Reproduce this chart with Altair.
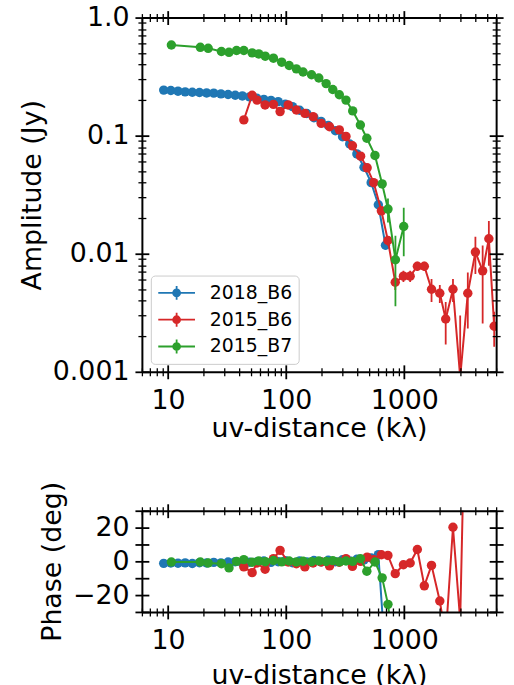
import altair as alt
import pandas as pd

FONT = "DejaVu Sans"
FS = 27
SERIES = ["2018_B6", "2015_B6", "2015_B7"]
COLORS = ["#1f77b4", "#d62728", "#2ca02c"]

# ---- 2018_B6 ----
uv_18b6 = [9.18, 10.55, 12.13, 13.95, 16.04, 18.44, 21.20, 24.37, 28.02, 32.22, 37.04,
           42.59, 48.96, 56.29, 64.72, 74.41, 85.55, 98.36, 113.1, 130.0, 149.5, 171.9,
           197.6, 227.2, 261.2, 300.3, 345.3, 397.0, 456.4, 524.7, 603.3, 693.6]
amp_18b6 = [0.243, 0.241, 0.238, 0.235, 0.233, 0.232, 0.230, 0.229, 0.226, 0.223, 0.220,
            0.217, 0.213, 0.208, 0.203, 0.199, 0.194, 0.185, 0.176, 0.164, 0.154, 0.142,
            0.132, 0.122, 0.110, 0.098, 0.085, 0.070, 0.054, 0.040, 0.026, 0.0118]
err_18b6 = [0.002] * 26 + [0.0015, 0.0015, 0.0012, 0.0012, 0.001, 0.001]
pha_18b6 = [-1.2, -1.0, -1.1, -0.9, -1.3, -0.8, -1.0, -0.6, -0.9, -0.4, -0.2, -1.1, -0.5,
            -0.3, 0.2, -0.6, -0.2, 0.4, -0.8, 0.3, -0.4, 0.5, -0.3, 0.6, -0.2, 0.9, 0.3,
            1.2, 0.8, 2.0, 4.0, -58.0]

# ---- 2015_B6 ----
uv_15b6 = [43.8, 51.5, 56.6, 66.3, 78.0, 88.8, 104, 122, 144, 169, 198, 233, 282, 321,
           364, 427, 485, 551, 640, 727, 839, 984, 1122, 1291, 1479, 1702, 2000, 2244,
           2586, 2976, 3453, 4005, 4613, 5206, 5775]
amp_15b6 = [0.136, 0.220, 0.200, 0.182, 0.184, 0.160, 0.182, 0.165, 0.1545, 0.145, 0.127,
            0.119, 0.112, 0.0985, 0.082, 0.067, 0.0534, 0.040, 0.0231, 0.01295, 0.00573,
            0.00646, 0.00646, 0.00784, 0.00784, 0.0050, 0.00463, 0.0028, 0.0050, 0.0009,
            0.00463, 0.01033, 0.00716, 0.0134, 0.00243]
err_15b6 = [0.004, 0.004, 0.004, 0.004, 0.004, 0.004, 0.004, 0.004, 0.003, 0.003, 0.003,
            0.003, 0.003, 0.003, 0.002, 0.002, 0.002, 0.002, 0.0015, 0.0012, 0.0008,
            0.0007, 0.0007, 0.0007, 0.0007, 0.0011, 0.0008, 0.0011, 0.0011, 0.0021,
            0.0023, 0.0036, 0.0046, 0.0055, 0.0008]
pha_15b6 = [-3.3, -6.7, -1.0, -4.7, 1.6, 6.5, -0.4, -1.4, -3.3, -1.0, -0.4, -2.7, -0.5,
            1.6, -3.0, 0.0, 2.5, 1.0, 3.9, 3.5, -7.3, -2.0, -1.0, 7.0, -14.5, -2.4, -23.5,
            -45.0, 20.2, -35.0, 170.0, 160.0, 175.0, 150.0, 165.0]

# ---- 2015_B7 ----
uv_15b7 = [10.66, 18.75, 21.86, 28.3, 32.8, 38.0, 43.8, 51.5, 58.6, 66.5, 78.0, 91.6,
           106, 122, 139, 164, 189, 218, 248, 282, 321, 366, 425, 482, 565, 650, 728,
           842, 990]
amp_15b7 = [0.586, 0.560, 0.549, 0.516, 0.508, 0.526, 0.526, 0.502, 0.492, 0.471, 0.453,
            0.419, 0.393, 0.368, 0.346, 0.328, 0.308, 0.276, 0.246, 0.222, 0.200, 0.162,
            0.123, 0.095, 0.068, 0.039, 0.0239, 0.0089, 0.0170]
err_15b7 = [0.006] * 22 + [0.004, 0.004, 0.003, 0.003, 0.0055, 0.0053, 0.0075]
pha_15b7 = [-0.4, -0.4, -1.0, -1.4, -3.9, 0.0, 1.0, -0.5, 0.3, -0.2, 0.5, -0.3, 0.2,
            -0.4, 0.1, -0.2, 0.3, -0.1, 0.4, -0.3, 0.2, 0.0, 1.6, -5.9, -0.4, -9.8,
            -25.5, -60.0, -45.0]

# ---- axis ticks ----
X_MAJOR = [10, 100, 1000]
X_MINOR = [6, 7, 8, 9, 20, 30, 40, 50, 60, 70, 80, 90, 200, 300, 400, 500, 600, 700,
           800, 900, 2000, 3000, 4000, 5000, 6000]
AMP_MAJOR = [0.001, 0.01, 0.1, 1.0]
AMP_MINOR = [0.002, 0.003, 0.004, 0.005, 0.006, 0.007, 0.008, 0.009,
             0.02, 0.03, 0.04, 0.05, 0.06, 0.07, 0.08, 0.09,
             0.2, 0.3, 0.4, 0.5, 0.6, 0.7, 0.8, 0.9]
PHA_TICKS = [-30, -20, -10, 0, 10, 20, 30]


def frame(name, uv, amp, err, pha):
    d = pd.DataFrame({"uv": uv, "amp": amp, "err": err, "phase": pha})
    d["series"] = name
    d["lo"] = (d["amp"] - d["err"]).clip(lower=1e-6)
    d["hi"] = d["amp"] + d["err"]
    return d


df = pd.concat([
    frame(SERIES[0], uv_18b6, amp_18b6, err_18b6, pha_18b6),
    frame(SERIES[1], uv_15b6, amp_15b6, err_15b6, pha_15b6),
    frame(SERIES[2], uv_15b7, amp_15b7, err_15b7, pha_15b7),
], ignore_index=True)

XS = alt.Scale(type="log", domain=[6, 6000], nice=False)
AS = alt.Scale(type="log", domain=[0.001, 1.0], nice=False)
PS = alt.Scale(domain=[-30, 30], nice=False, zero=False)
CS = alt.Scale(domain=SERIES, range=COLORS)

TMAJ, TMIN = 7, 4


def axis(orient, values, major, inward=False, labels=False, label_expr=None,
         title=None, label_padding=6, title_padding=6, domain=False):
    kw = dict(orient=orient, values=values, tickSize=TMAJ if major else TMIN,
              tickWidth=1.8 if major else 1.3, tickColor="black", domain=domain,
              grid=False, zindex=1, labels=labels, title=title)
    if domain:
        kw.update(domainColor="black", domainWidth=2)
    if inward:
        kw["offset"] = -(TMAJ if major else TMIN)
    if labels:
        kw.update(labelExpr=label_expr, labelFont=FONT, labelFontSize=FS,
                  labelColor="black", labelPadding=label_padding, labelOverlap=False,
                  labelFlush=False)
    if title:
        kw.update(titleFont=FONT, titleFontSize=FS, titleFontWeight="normal",
                  titleColor="black", titlePadding=title_padding)
    return alt.Axis(**kw)


X_LABEL = "'' + datum.value"


def axis_layers(yfield, ys, y_major, y_minor, y_label_expr, y_title, x_title_pad):
    pairs = [
        (axis("bottom", X_MAJOR, True, labels=True, label_expr=X_LABEL,
              title="uv-distance (kλ)", label_padding=9, title_padding=x_title_pad,
              domain=True),
         axis("left", y_major, True, labels=True, label_expr=y_label_expr,
              title=y_title, label_padding=6, title_padding=6, domain=True)),
        (axis("bottom", X_MINOR, False), axis("left", y_minor, False)),
        (axis("bottom", X_MAJOR, True, inward=True), axis("left", y_major, True, inward=True)),
        (axis("bottom", X_MINOR, False, inward=True), axis("left", y_minor, False, inward=True)),
        (axis("top", X_MAJOR, True, domain=True), axis("right", y_major, True, domain=True)),
        (axis("top", X_MINOR, False), axis("right", y_minor, False)),
        (axis("top", X_MAJOR, True, inward=True), axis("right", y_major, True, inward=True)),
        (axis("top", X_MINOR, False, inward=True), axis("right", y_minor, False, inward=True)),
    ]
    return [
        alt.Chart(df).mark_point(opacity=0, clip=True).encode(
            x=alt.X("uv:Q", scale=XS, axis=xa),
            y=alt.Y(f"{yfield}:Q", scale=ys, axis=ya),
        )
        for xa, ya in pairs
    ]


def circ(cx, r):
    return (f"M{cx + r:.3f} 0A{r} {r} 0 1 1 {cx - r:.3f} 0"
            f"A{r} {r} 0 1 1 {cx + r:.3f} 0Z")


SYMBOL = ("M-1 0H2.7M0.85 -0.7V0.7" + circ(0.85, 0.35) + circ(0.85, 0.2)
          + circ(0.85, 0.07))

LEGEND = alt.Legend(
    title=None, orient="bottom-left", offset=8.5, symbolType=SYMBOL, symbolSize=400,
    symbolStrokeWidth=1.8, labelFont=FONT, labelFontSize=19, labelColor="black",
    labelOffset=31, rowPadding=5, padding=6.5, fillColor="rgba(255,255,255,0.8)",
    strokeColor="#cccccc", cornerRadius=4,
)


def data_layers(yfield, ys, with_err, legend):
    layers = []
    for i, s in enumerate(SERIES):
        base = alt.Chart(df).transform_filter(alt.datum.series == s)
        x = alt.X("uv:Q", scale=XS, axis=None)
        y = alt.Y(f"{yfield}:Q", scale=ys, axis=None)
        leg = legend if (legend is not None and i == 0) else None
        layers.append(base.mark_line(strokeWidth=2, clip=True).encode(
            x=x, y=y, color=alt.Color("series:N", scale=CS, legend=leg)))
        if with_err:
            layers.append(base.mark_rule(strokeWidth=1.8, clip=True).encode(
                x=x, y=alt.Y("lo:Q", scale=ys, axis=None), y2="hi:Q",
                color=alt.Color("series:N", scale=CS, legend=None)))
        layers.append(base.mark_circle(size=90, opacity=1, clip=True).encode(
            x=x, y=y, color=alt.Color("series:N", scale=CS, legend=None)))
    return layers


AMP_LABEL = "datum.value >= 1 ? '1.0' : '' + datum.value"
PHA_LABEL = ("datum.value % 20 != 0 ? '' : (datum.value < 0 ? '\u2212' + (-datum.value)"
             " : '' + datum.value)")

top = alt.layer(
    *axis_layers("amp", AS, AMP_MAJOR, AMP_MINOR, AMP_LABEL, "Amplitude (Jy)", 2),
    *data_layers("amp", AS, True, LEGEND),
).resolve_axis(x="independent", y="independent").properties(width=357, height=357)

bottom = alt.layer(
    *axis_layers("phase", PS, PHA_TICKS, [], PHA_LABEL, "Phase (deg)", 9),
    *data_layers("phase", PS, False, None),
).resolve_axis(x="independent", y="independent").properties(width=357, height=102)

chart = alt.vconcat(top, bottom, spacing=140, bounds="flush").resolve_scale(
    color="independent").resolve_legend(color="independent").properties(
    padding={"left": 18, "top": 1, "right": 10, "bottom": 5},
    background="white",
).configure_view(stroke=None)

chart.save("out.html", embed_options={"renderer": "svg", "actions": False})
